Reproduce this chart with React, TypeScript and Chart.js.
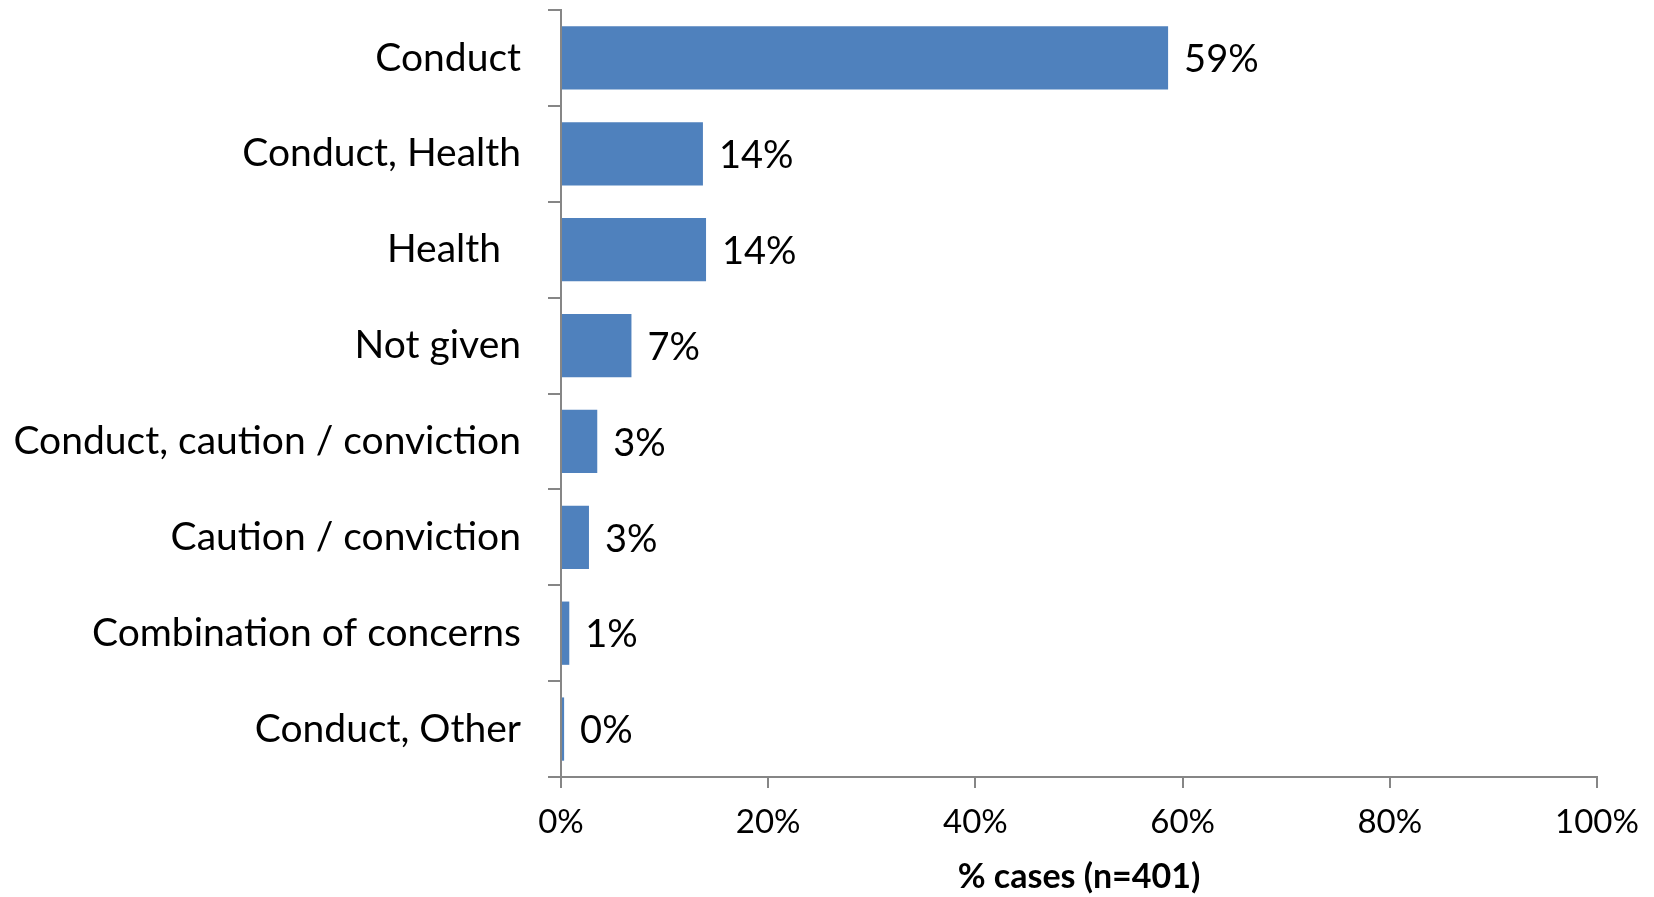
import React, { useEffect, useRef } from "react";
import { Chart, registerables } from "chart.js";

Chart.register(...registerables);

const categories = [
  "Conduct",
  "Conduct, Health",
  "Health  ",
  "Not given",
  "Conduct, caution / conviction",
  "Caution / conviction",
  "Combination of concerns",
  "Conduct, Other",
];
const shareValues = [58.6, 13.7, 14.0, 6.8, 3.5, 2.7, 0.8, 0.3];
const shareLabels = ["59%", "14%", "14%", "7%", "3%", "3%", "1%", "0%"];
const xTicks = [0, 20, 40, 60, 80, 100];
const axisTitle = "% cases (n=401)";

const FONT = "Lato, 'Open Sans', sans-serif";
const AXIS_COLOR = "#868686";

const dataLabelPlugin = {
  id: "dataLabels",
  afterDatasetsDraw(chart: any) {
    const ctx = chart.ctx;
    const meta = chart.getDatasetMeta(0);
    ctx.save();
    ctx.font = `38px ${FONT}`;
    ctx.fillStyle = "#000000";
    ctx.textAlign = "left";
    ctx.textBaseline = "middle";
    meta.data.forEach((bar: any, i: number) => {
      ctx.fillText(shareLabels[i], bar.x + 16, bar.y + 2);
    });
    ctx.restore();
  },
};

export default function App() {
  const ref = useRef<HTMLCanvasElement | null>(null);

  useEffect(() => {
    if (!ref.current) return;
    const chart = new Chart(ref.current, {
      type: "bar",
      data: {
        labels: categories,
        datasets: [
          {
            data: shareValues,
            backgroundColor: "#4F81BD",
            borderWidth: 0,
            categoryPercentage: 1,
            barPercentage: 0.66,
          },
        ],
      },
      options: {
        indexAxis: "y",
        animation: false,
        responsive: false,
        maintainAspectRatio: false,
        layout: { padding: { top: 10, right: 57, bottom: 0, left: 0 } },
        plugins: {
          legend: { display: false },
          tooltip: { enabled: false },
        },
        scales: {
          y: {
            type: "category",
            afterFit: (scale: any) => {
              scale.width = 561;
              scale.paddingTop = 0;
              scale.paddingBottom = 0;
            },
            grid: {
              offset: true,
              drawOnChartArea: false,
              drawTicks: true,
              tickLength: 13,
              color: AXIS_COLOR,
              lineWidth: 2,
            },
            border: { display: true, color: AXIS_COLOR, width: 2 },
            ticks: {
              color: "#000000",
              padding: 27,
              font: { family: FONT, size: 39 },
            },
          },
          x: {
            type: "linear",
            min: 0,
            max: 100,
            afterBuildTicks: (scale: any) => {
              scale.ticks = xTicks.map((v) => ({ value: v }));
            },
            afterFit: (scale: any) => {
              scale.height = 120;
            },
            grid: {
              drawOnChartArea: false,
              drawTicks: true,
              tickLength: 11,
              color: AXIS_COLOR,
              lineWidth: 2,
            },
            border: { display: true, color: AXIS_COLOR, width: 2 },
            ticks: {
              color: "#000000",
              padding: 15,
              maxRotation: 0,
              font: { family: FONT, size: 33 },
              callback: (v: any) => `${v}%`,
            },
            title: {
              display: true,
              text: axisTitle,
              color: "#000000",
              font: { family: FONT, size: 34, weight: "bold" },
              padding: { top: 0, bottom: 0 },
            },
          },
        },
      },
      plugins: [dataLabelPlugin],
    });
    return () => chart.destroy();
  }, []);

  return (
    <div style={{ position: "fixed", left: 0, top: 0, width: 1654, height: 897, background: "#ffffff" }}>
      <canvas ref={ref} width={1654} height={897} style={{ display: "block" }} />
    </div>
  );
}
